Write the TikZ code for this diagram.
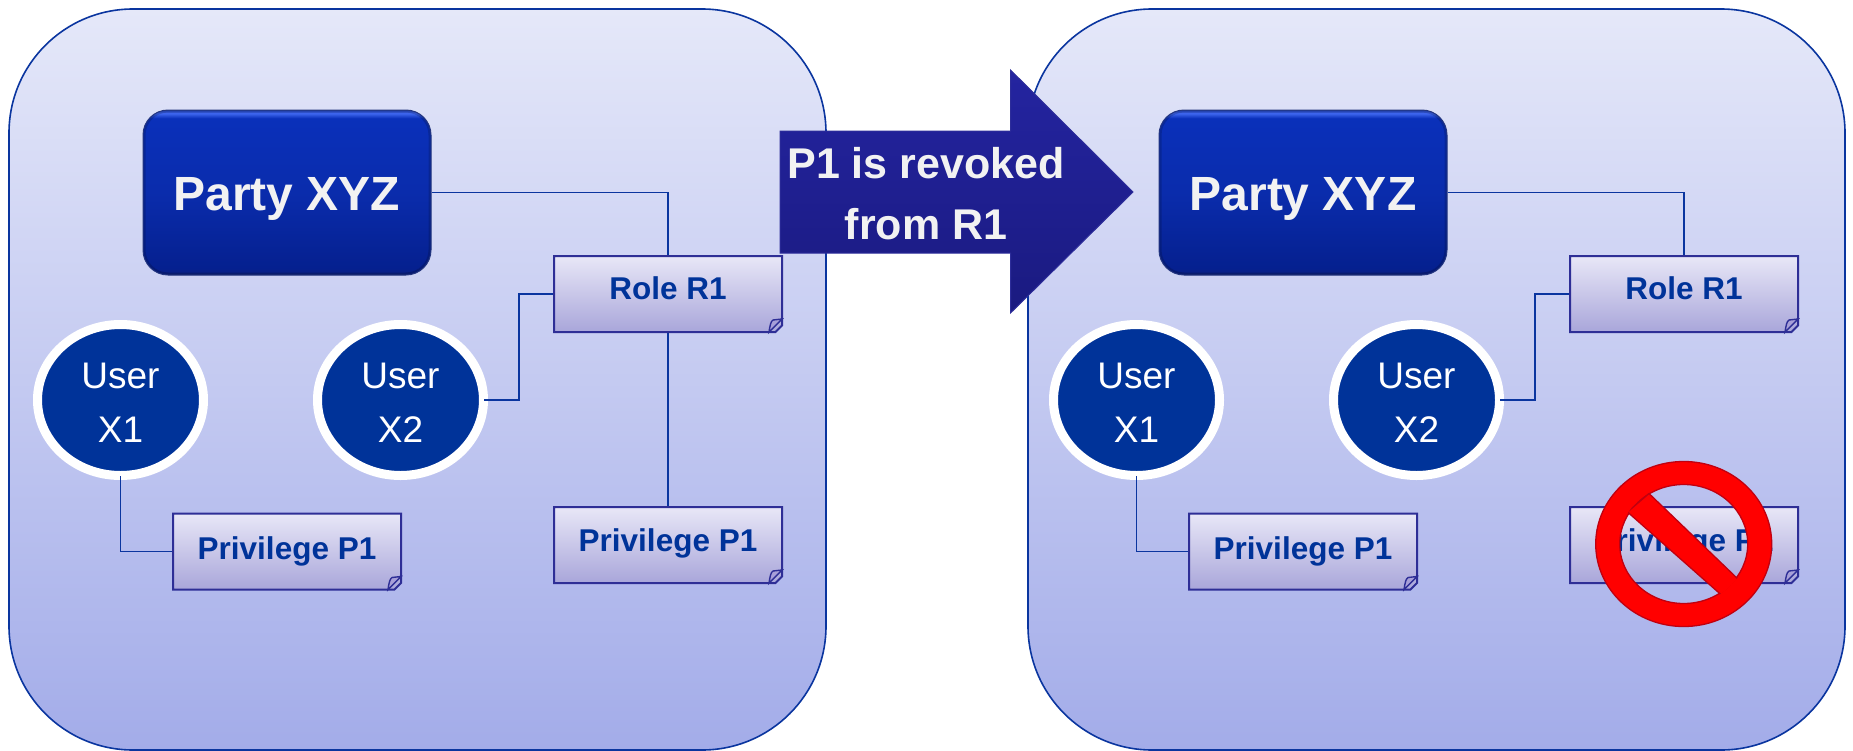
\documentclass[tikz,border=0pt]{standalone}
\usepackage{fontspec}
\setmainfont{Liberation Sans}
\usetikzlibrary{shapes.misc,shapes.geometric,calc}
\definecolor{edgeblue}{HTML}{0A359F}
\definecolor{textblue}{HTML}{003399}
\definecolor{noteedge}{HTML}{2E2E96}
\definecolor{psa}{HTML}{1C2C78}
\definecolor{psb}{HTML}{0A2084}
\definecolor{psc}{HTML}{05208F}
\definecolor{psd}{HTML}{0A2CAC}
\definecolor{pse}{HTML}{0A30BA}
\definecolor{psf}{HTML}{4068F0}
\definecolor{psg}{HTML}{2448C8}
\pgfdeclareverticalshading{partyshade}{100bp}{
 color(0bp)=(psa);
 color(25bp)=(psa);
 color(25.6bp)=(psb);
 color(27bp)=(psc);
 color(50bp)=(psd);
 color(72.5bp)=(pse);
 color(74bp)=(psf);
 color(75bp)=(psg);
 color(100bp)=(psg)}
\definecolor{HTMLtop}{HTML}{E5E8F9}
\definecolor{HTMLbot}{HTML}{A3ACE9}
\definecolor{HTMLparty}{HTML}{24367F}
\definecolor{HTMLwhite}{HTML}{F2F2F2}
\definecolor{HTMLnotetop}{HTML}{E8E7F7}
\definecolor{HTMLnotebot}{HTML}{A9A6DA}
\definecolor{HTMLfold}{HTML}{A79FD8}
\definecolor{HTMLarrowedge}{HTML}{2D2D9A}
\definecolor{HTMLarrowtop}{HTML}{2424A0}
\definecolor{HTMLarrowbot}{HTML}{1A1A80}
\definecolor{HTMLforbid}{HTML}{C00010}
\tikzset{
 x=1pt,y=-1pt,
 panelbox/.style={rectangle,rounded corners=124pt,minimum width=817pt,minimum height=741pt,
   draw=edgeblue,line width=1.6pt,top color=HTMLtop,bottom color=HTMLbot},
 partybox/.style={rectangle,rounded corners=25pt,minimum width=288pt,minimum height=165pt,
   draw=HTMLparty,line width=1pt,shading=partyshade,text=HTMLwhite,
   font=\fontsize{48}{48}\selectfont\bfseries,
   path picture={\draw[draw=black,opacity=.16,line width=5pt,rounded corners=25pt]
     (path picture bounding box.north west) rectangle (path picture bounding box.south east);}},
 userbox/.style={ellipse,minimum width=166pt,minimum height=151pt,inner sep=0pt,
   draw=white,line width=9pt,fill=textblue,text=white,align=center,
   font=\fontsize{37}{54}\selectfont},
 notebox/.style={chamfered rectangle,chamfered rectangle corners=south east,
   chamfered rectangle xsep=6.5pt,chamfered rectangle ysep=6.5pt,
   minimum width=228pt,minimum height=76pt,inner sep=0pt,
   draw=noteedge,line width=2pt,top color=HTMLnotetop,bottom color=HTMLnotebot,text=textblue,
   font=\fontsize{31.5}{31.5}\selectfont\bfseries},
 wire/.style={draw=edgeblue,line width=1.9pt},
 foldmark/.style={draw=noteedge,line width=1.4pt,fill=HTMLfold},
 bigarrow/.style={draw=HTMLarrowedge,line width=1pt,top color=HTMLarrowtop,bottom color=HTMLarrowbot},
 arrowtext/.style={text=HTMLwhite,align=center,font=\fontsize{43}{61}\selectfont\bfseries},
 forbid/.style={draw=HTMLforbid,line width=1.3pt,fill=red,even odd rule}
}
\newcommand{\foldmark}[1]{%
 \draw[foldmark] ([shift={(101,38)}]#1.center) .. controls ([shift={(102,31)}]#1.center) and ([shift={(103,27)}]#1.center) .. ([shift={(105,26)}]#1.center) -- ([shift={(114,25)}]#1.center) -- cycle;}
\newcommand{\lowered}[2]{\raisebox{#1}[0pt][0pt]{#2}}
\newcommand{\usertext}[1]{\rule{0pt}{31.5pt}User\\#1}
\begin{document}
\begin{tikzpicture}
\useasboundingbox (0,0) rectangle (1853,750);
% left panel
\node[panelbox] (panelA) at (417.5,379.5) {};
\node[partybox] (partyA) at (287,192.5) {\lowered{-17.5pt}{Party XYZ}};
\node[userbox] (xoneA) at (120.5,400) {\usertext{X1}};
\node[userbox] (xtwoA) at (400.5,400) {\usertext{X2}};
\node[notebox] (roleA) at (668,294) {\lowered{-5pt}{Role R1}};
\node[notebox] (privA) at (287,551.5) {\lowered{-8pt}{Privilege P1}};
\node[notebox] (privrA) at (668,545) {\lowered{-6pt}{Privilege P1}};
\foreach \n in {roleA,privA,privrA} {\foldmark{\n}}
\draw[wire] (partyA.east) -| (roleA.north);
\draw[wire] ([xshift=-4pt]xtwoA.east) -- ++(35,0) |- (roleA.west);
\draw[wire] ([yshift=4pt]xoneA.south) |- (privA.west);
\draw[wire] (roleA.south) -- (privrA.north);
% right panel
\node[panelbox] (panelB) at (1436.5,379.5) {};
\node[partybox] (partyB) at (1303,192.5) {\lowered{-17.5pt}{Party XYZ}};
\node[userbox] (xoneB) at (1136.5,400) {\usertext{X1}};
\node[userbox] (xtwoB) at (1416.5,400) {\usertext{X2}};
\node[notebox] (roleB) at (1684,294) {\lowered{-5pt}{Role R1}};
\node[notebox] (privB) at (1303,551.5) {\lowered{-8pt}{Privilege P1}};
\node[notebox] (privrB) at (1684,545) {\lowered{-6pt}{Privilege P1}};
\foreach \n in {roleB,privB,privrB} {\foldmark{\n}}
\draw[wire] (partyB.east) -| (roleB.north);
\draw[wire] ([xshift=-4pt]xtwoB.east) -- ++(35,0) |- (roleB.west);
\draw[wire] ([yshift=4pt]xoneB.south) |- (privB.west);
% prohibition sign
\draw[forbid] (1683.7,544) ellipse [x radius=88,y radius=82.5] (1683.7,544) ellipse [x radius=64,y radius=59.5];
\begin{scope}
\clip (1683.7,544) ellipse [x radius=65,y radius=60.5];
\draw[forbid] (1649,493.5) -- (1627.5,512) -- (1722.5,596) -- (1740,581) -- cycle;
\end{scope}
% arrow
\draw[bigarrow] (780,131) -- (1010.5,131) -- (1010.5,70) -- (1133,192) -- (1010.5,313) -- (1010.5,253) -- (780,253) -- cycle;
\node[arrowtext] (arrowlabel) at (926,193.5) {P1 is revoked\\from R1};
\end{tikzpicture}
\end{document}
